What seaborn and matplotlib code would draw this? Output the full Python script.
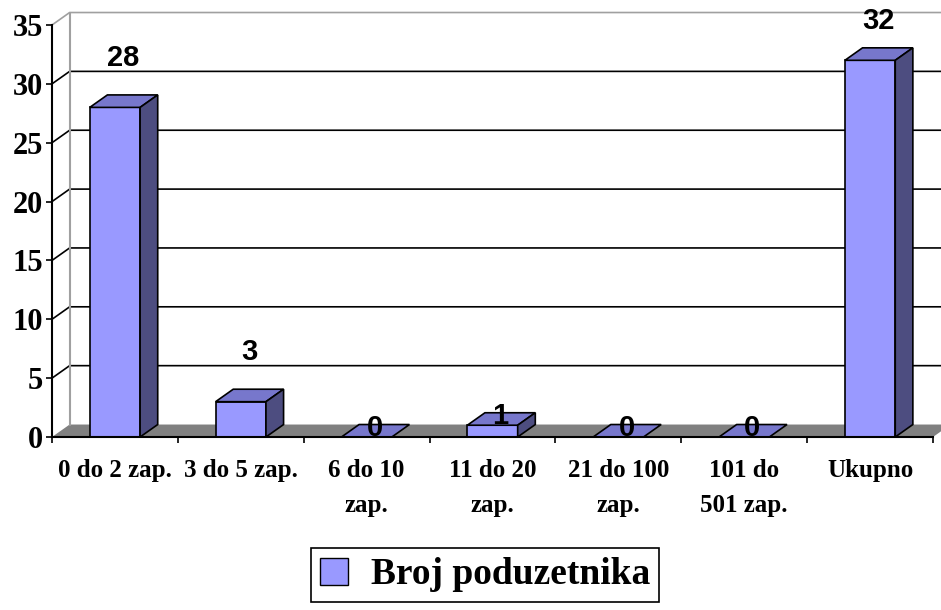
import pandas as pd
import seaborn as sns
import matplotlib.pyplot as plt
from matplotlib.patches import Polygon, Patch

# chart data
categories = ['0 do 2 zap.', '3 do 5 zap.', '6 do 10\nzap.', '11 do 20\nzap.',
              '21 do 100\nzap.', '101 do\n501 zap.', 'Ukupno']
values = [28, 3, 0, 1, 0, 0, 32]
series_name = 'Broj poduzetnika'
y_ticks = [0, 5, 10, 15, 20, 25, 30, 35]

# colours (Excel 3D column look)
front_col = '#9999FF'
top_col = '#7777CC'
side_col = '#4D4D80'
floor_col = '#808080'
wall_col = '#A0A0A0'

# 3D depth offsets in data units
dx, dy = 0.14, 1.06

sns.set_style('white')
plt.rcParams['font.family'] = ['Liberation Serif', 'DejaVu Serif']
plt.rcParams['text.color'] = 'black'
plt.rcParams['xtick.color'] = 'black'
plt.rcParams['ytick.color'] = 'black'
plt.rcParams['axes.labelcolor'] = 'black'

df = pd.DataFrame({'kat': categories, 'broj': values})

fig = plt.figure(figsize=(9.41, 6.10), dpi=100)
ax = fig.add_axes([52 / 941, (610 - 437) / 610, (933 - 52) / 941, (437 - 25) / 610])

sns.barplot(data=df, x='kat', y='broj', color=front_col, saturation=1,
            width=0.4, edgecolor='black', linewidth=1.2, ax=ax, zorder=4)
bars = list(ax.patches)

ax.set_xlim(-0.5, len(categories) - 0.5)
ax.set_ylim(0, 35)
x_left, x_right = ax.get_xlim()

# floor
ax.add_patch(Polygon([(x_left, 0), (x_right, 0), (x_right + dx, dy), (x_left + dx, dy)],
                     closed=True, facecolor=floor_col, edgecolor='none', zorder=1, clip_on=False))

# back wall and gridlines
for v in y_ticks[1:]:
    col = wall_col if v == y_ticks[-1] else 'black'
    ax.plot([x_left, x_left + dx, x_right + dx + 0.3], [v, v + dy, v + dy],
            color=col, lw=1.2, zorder=2, clip_on=False)
ax.plot([x_left + dx, x_left + dx], [dy, y_ticks[-1] + dy], color=wall_col, lw=1.5,
        zorder=2, clip_on=False)

# 3D faces on bars
for p, v in zip(bars, values):
    x0 = p.get_x()
    x1 = x0 + p.get_width()
    h = p.get_height()
    top = Polygon([(x0, h), (x1, h), (x1 + dx, h + dy), (x0 + dx, h + dy)], closed=True,
                  facecolor=top_col, edgecolor='black', lw=1.2, zorder=4, clip_on=False)
    ax.add_patch(top)
    if h > 0:
        side = Polygon([(x1, 0), (x1, h), (x1 + dx, h + dy), (x1 + dx, dy)], closed=True,
                       facecolor=side_col, edgecolor='black', lw=1.2, zorder=4, clip_on=False)
        ax.add_patch(side)
    ly = min(v + 4.2, 35.3) if v > 1 else v + 0.8
    ax.text(x0 + p.get_width() / 2 + 0.065, ly, str(v), ha='center', va='center',
            family='Liberation Sans', weight='bold', fontsize=21, color='black',
            zorder=6, clip_on=False)

# axes styling
for s in ['top', 'right']:
    ax.spines[s].set_visible(False)
for s in ['left', 'bottom']:
    ax.spines[s].set_color('black')
    ax.spines[s].set_linewidth(1.5)
    ax.spines[s].set_zorder(5)

ax.set_yticks(y_ticks)
ax.set_yticklabels([str(t) for t in y_ticks], weight='bold', fontsize=22)
ax.tick_params(axis='y', length=4.5, width=1.2, direction='out', pad=2, left=True)

ax.set_xticks(range(len(categories)))
ax.set_xticklabels(categories, weight='bold', fontsize=18, linespacing=1.65, va='top')
ax.set_xticks([i - 0.5 for i in range(len(categories) + 1)], minor=True)
ax.tick_params(axis='x', which='major', length=0, pad=16)
ax.tick_params(axis='x', which='minor', length=4.5, width=1.2, direction='out', bottom=True)

ax.set_xlabel('')
ax.set_ylabel('')

leg = fig.legend(handles=[Patch(facecolor=front_col, edgecolor='black', label=series_name)],
                 loc='center', bbox_to_anchor=(485 / 941, (610 - 575) / 610),
                 frameon=True, fancybox=False, edgecolor='black', framealpha=1,
                 prop={'family': 'Liberation Serif', 'weight': 'bold', 'size': 27},
                 handlelength=0.75, handleheight=0.75, handletextpad=0.6, borderpad=0.25,
                 borderaxespad=0)
leg.get_frame().set_linewidth(1.2)

fig.savefig('out.png', dpi=100)
